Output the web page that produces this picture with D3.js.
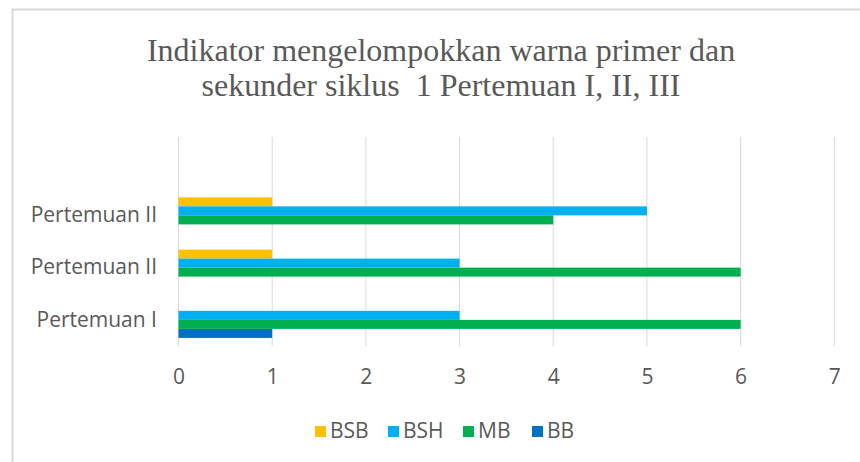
<!DOCTYPE html>
<html>
<head>
<meta charset="utf-8">
<script src="https://cdn.jsdelivr.net/npm/d3@7"></script>
<style>
  body { margin: 0; background: #fff; }
  svg { display: block; }
</style>
</head>
<body>
<script>
// data (bottom category first, top category last)
const categories = ["Pertemuan I", "Pertemuan II", "Pertemuan II", ""];
const seriesNames = ["BSB", "BSH", "MB", "BB"];
const BSB = [0, 1, 1, 0];
const BSH = [3, 3, 5, 0];
const MB = [6, 6, 4, 0];
const BB = [1, 0, 0, 0];
const xTicks = [0, 1, 2, 3, 4, 5, 6, 7];
const titleLines = ["Indikator mengelompokkan warna primer dan", "sekunder siklus  1 Pertemuan I, II, III"];

const colors = { BSB: "#FFC000", BSH: "#00B0F0", MB: "#00B050", BB: "#0070C0" };
const values = { BSB, BSH, MB, BB };

const w = 860, h = 462;
const plot = { left: 178.5, right: 834.3, top: 137, bottom: 346 };
const labelFont = "'Open Sans', 'Noto Sans', sans-serif";

const svg = d3.select("body").append("svg")
  .attr("width", w)
  .attr("height", h);

// chart frame (only left and top edges are visible in the picture)
svg.append("path")
  .attr("d", `M12.5,${h} V9.5 H${w}`)
  .attr("fill", "none")
  .attr("stroke", "#d9d9d9")
  .attr("stroke-width", 2);

// title
svg.append("text")
  .attr("x", 441)
  .attr("y", 61)
  .attr("text-anchor", "middle")
  .style("font-family", "'Liberation Serif', 'DejaVu Serif', serif")
  .style("font-size", "32px")
  .style("white-space", "pre")
  .style("fill", "#595959")
  .selectAll("tspan")
  .data(titleLines)
  .enter()
  .append("tspan")
  .attr("x", 441)
  .attr("dy", (d, i) => i === 0 ? 0 : 35)
  .text(d => d);

const xScale = d3.scaleLinear()
  .domain([0, 7])
  .range([plot.left, plot.right]);

// categories keyed by index, since two labels are the same
const yScale = d3.scaleBand()
  .domain(d3.range(categories.length))
  .range([plot.bottom, plot.top])
  .paddingInner(0.31)
  .paddingOuter(0.155);

const ySub = d3.scaleBand()
  .domain(seriesNames)
  .range([0, yScale.bandwidth()]);

// gridlines
svg.append("g")
  .selectAll("line")
  .data(xTicks)
  .enter()
  .append("line")
  .attr("x1", d => xScale(d))
  .attr("x2", d => xScale(d))
  .attr("y1", plot.top)
  .attr("y2", plot.bottom)
  .attr("stroke", "#d9d9d9")
  .attr("stroke-width", 1);

// bars
const groups = svg.append("g")
  .selectAll("g")
  .data(categories.map((c, i) => i))
  .enter()
  .append("g")
  .attr("transform", i => `translate(0,${yScale(i)})`);

groups.selectAll("rect")
  .data(i => seriesNames.map(s => ({ s, v: values[s][i] })))
  .enter()
  .append("rect")
  .attr("x", xScale(0))
  .attr("y", d => ySub(d.s))
  .attr("width", d => xScale(d.v) - xScale(0))
  .attr("height", ySub.bandwidth())
  .attr("fill", d => colors[d.s]);

// x axis labels
const xAxis = d3.axisBottom(xScale)
  .tickValues(xTicks)
  .tickFormat(d3.format("d"))
  .tickSize(0)
  .tickPadding(0);

const gx = svg.append("g")
  .attr("transform", `translate(0,${plot.bottom + 23})`)
  .call(xAxis);
gx.select(".domain").remove();
gx.selectAll("text")
  .style("font-family", labelFont)
  .style("font-size", "21px")
  .style("fill", "#595959");

// y axis labels
const yAxis = d3.axisLeft(yScale)
  .tickFormat(i => categories[i])
  .tickSize(0)
  .tickPadding(0);

const gy = svg.append("g")
  .attr("transform", `translate(157,0)`)
  .call(yAxis);
gy.select(".domain").remove();
gy.selectAll("text")
  .style("font-family", labelFont)
  .style("font-size", "21px")
  .style("fill", "#595959");

// legend
const legendX = [315, 388, 463, 532];
const legend = svg.append("g")
  .selectAll("g")
  .data(seriesNames)
  .enter()
  .append("g")
  .attr("transform", (d, i) => `translate(${legendX[i]},426)`);

legend.append("rect")
  .attr("x", 0)
  .attr("y", 0)
  .attr("width", 11)
  .attr("height", 11)
  .attr("fill", d => colors[d]);

legend.append("text")
  .attr("x", 15)
  .attr("y", 12)
  .style("font-family", labelFont)
  .style("font-size", "21px")
  .style("fill", "#595959")
  .text(d => d);
</script>
</body>
</html>
